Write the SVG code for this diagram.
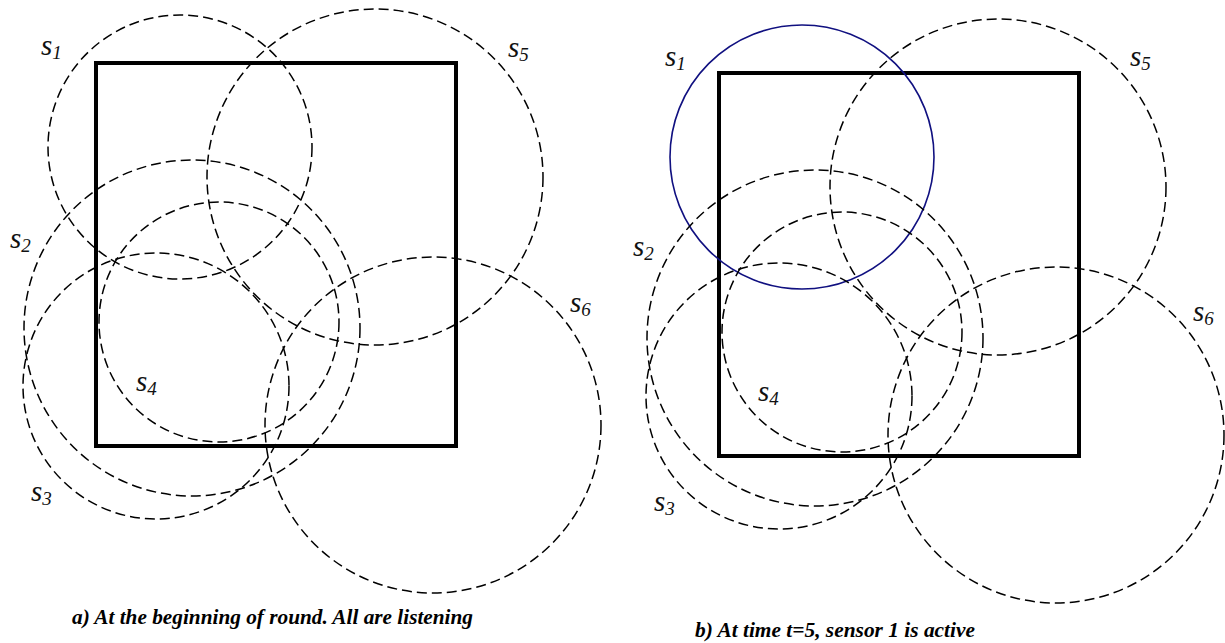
<svg xmlns="http://www.w3.org/2000/svg" width="1225" height="643" viewBox="0 0 1225 643">
<style>
.sq{fill:none;stroke:#000;stroke-width:4}
.rng{fill:none;stroke:#000;stroke-width:1.5;stroke-dasharray:10,5}
.act{fill:none;stroke:#101080;stroke-width:1.6}
.lbl{font-family:"Liberation Serif",serif;font-style:italic;font-size:29px;fill:#111}
.sub{font-size:19px}
.cap{font-family:"Liberation Serif",serif;font-style:italic;font-weight:bold;font-size:21px;fill:#000}
</style>
<rect width="1225" height="643" fill="#fff"/>
<g id="panel-a">
  <rect id="a-area" class="sq" x="96" y="63" width="360" height="383"/>
  <g id="a-s1"><circle class="rng" cx="180" cy="147" r="132"/><text class="lbl" x="41" y="55">s<tspan class="sub" dy="4">1</tspan></text></g>
  <g id="a-s2"><circle class="rng" cx="192" cy="328" r="168"/><text class="lbl" x="10" y="248">s<tspan class="sub" dy="4">2</tspan></text></g>
  <g id="a-s3"><circle class="rng" cx="156" cy="386" r="133"/><text class="lbl" x="31" y="501">s<tspan class="sub" dy="4">3</tspan></text></g>
  <g id="a-s4"><circle class="rng" cx="219" cy="322" r="120"/><text class="lbl" x="136" y="391">s<tspan class="sub" dy="4">4</tspan></text></g>
  <g id="a-s5"><circle class="rng" cx="375" cy="177" r="168"/><text class="lbl" x="508" y="57">s<tspan class="sub" dy="4">5</tspan></text></g>
  <g id="a-s6"><circle class="rng" cx="433" cy="425" r="168"/><text class="lbl" x="570" y="312">s<tspan class="sub" dy="4">6</tspan></text></g>
  <text id="a-caption" class="cap" x="72" y="624" textLength="401" lengthAdjust="spacingAndGlyphs">a) At the beginning of round. All are listening</text>
</g>
<g id="panel-b">
  <rect id="b-area" class="sq" x="719" y="73" width="360" height="383"/>
  <g id="b-s1"><circle class="act" cx="802" cy="157" r="132"/><text class="lbl" x="665" y="66">s<tspan class="sub" dy="4">1</tspan></text></g>
  <g id="b-s2"><circle class="rng" cx="815" cy="338" r="168"/><text class="lbl" x="633" y="256">s<tspan class="sub" dy="4">2</tspan></text></g>
  <g id="b-s3"><circle class="rng" cx="779" cy="396" r="133"/><text class="lbl" x="654" y="511">s<tspan class="sub" dy="4">3</tspan></text></g>
  <g id="b-s4"><circle class="rng" cx="842" cy="332" r="120"/><text class="lbl" x="758" y="401">s<tspan class="sub" dy="4">4</tspan></text></g>
  <g id="b-s5"><circle class="rng" cx="998" cy="187" r="168"/><text class="lbl" x="1130" y="66">s<tspan class="sub" dy="4">5</tspan></text></g>
  <g id="b-s6"><circle class="rng" cx="1056" cy="435" r="168"/><text class="lbl" x="1193" y="321">s<tspan class="sub" dy="4">6</tspan></text></g>
  <text id="b-caption" class="cap" x="695" y="637" textLength="280" lengthAdjust="spacingAndGlyphs">b) At time t=5, sensor 1 is active</text>
</g>
</svg>
